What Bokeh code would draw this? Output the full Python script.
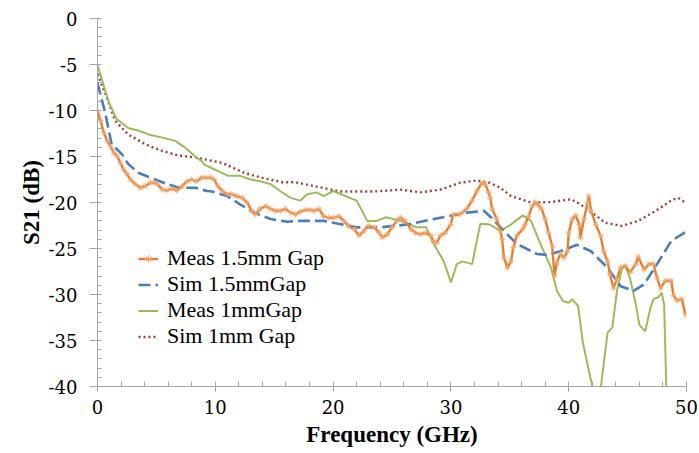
from bokeh.plotting import figure
from bokeh.models import Range1d, Legend, LegendItem, SingleIntervalTicker, PrintfTickFormatter
from bokeh.embed import file_html
from bokeh.resources import INLINE

# ---- data ----
meas15_f = [0, 0.25, 0.54, 0.82, 1.1, 1.39, 1.67, 1.95, 2.2, 2.5, 2.8, 3.2, 3.65, 4.07, 4.5, 4.8,
            5.1, 5.5, 5.9, 6.3, 6.7, 7.2, 7.6, 8.0, 8.4, 8.85, 9.2, 9.6, 9.9, 10.2, 10.6, 11.0,
            11.4, 11.8, 12.3, 12.7, 13.1, 13.4, 13.8, 14.3, 14.7, 15.1, 15.5, 15.96, 16.4, 16.8,
            17.2, 17.7, 18.1, 18.4, 18.8, 19.2, 19.6, 20.1, 20.5, 20.9, 21.3, 21.8, 22.2, 22.6,
            23.0, 23.5, 23.9, 24.2, 24.6, 25.0, 25.4, 25.7, 26.1, 26.6, 27.0, 27.4, 27.8, 28.3,
            28.5, 28.8, 29.1, 29.5, 29.97, 30.2, 30.7, 30.97, 31.4, 31.8, 32.2, 32.65, 32.9, 33.2,
            33.35, 33.5, 33.9, 34.2, 34.35, 34.5, 34.8, 35.1, 35.3, 35.6, 36.1, 36.3, 36.6, 36.9,
            37.2, 37.5, 37.7, 38.0, 38.3, 38.6, 38.8, 39.0, 39.3, 39.6, 39.9, 40.0, 40.3, 40.6,
            40.9, 41.0, 41.3, 41.6, 41.7, 41.9, 42.3, 42.7, 42.97, 43.3, 43.5, 43.8, 44.1, 44.4,
            44.8, 45.2, 45.7, 45.9, 46.4, 46.8, 47.2, 47.5, 47.8, 48.2, 48.7, 48.9, 49.2, 49.6, 49.9]
meas15_db = [-10.05, -11.1, -12.4, -13.3, -13.9, -14.6, -14.95, -15.7, -16.4, -16.9, -17.5, -18.0,
             -18.4, -18.2, -17.85, -17.85, -18.0, -18.6, -18.7, -18.5, -18.7, -18.2, -17.7, -17.5,
             -17.7, -17.3, -17.3, -17.3, -17.5, -18.2, -18.75, -19.1, -19.1, -19.3, -19.5, -20.0,
             -20.9, -21.3, -20.7, -20.4, -20.7, -20.9, -20.9, -20.7, -21.1, -21.3, -21.0, -20.8,
             -20.8, -20.9, -20.7, -21.5, -21.65, -21.65, -21.5, -22.0, -22.55, -22.9, -23.6, -23.1,
             -22.55, -22.7, -23.3, -23.8, -23.45, -22.7, -22.0, -21.65, -22.0, -22.9, -23.3, -23.45,
             -23.3, -23.6, -24.2, -24.4, -23.6, -23.3, -22.4, -21.3, -21.3, -21.1, -20.6, -19.8,
             -18.75, -17.85, -18.0, -18.9, -19.5, -20.7, -21.8, -23.1, -24.0, -26.0, -27.1, -26.4,
             -24.9, -23.6, -22.9, -22.4, -21.5, -20.4, -20.0, -20.4, -20.7, -21.8, -23.3, -24.7,
             -28.0, -26.5, -25.6, -26.0, -25.3, -23.3, -21.8, -21.4, -22.4, -23.8, -21.8, -20.0,
             -19.3, -20.9, -22.4, -23.6, -25.3, -26.4, -27.8, -29.3, -28.3, -27.1, -26.9, -27.6,
             -26.7, -25.9, -27.3, -26.7, -26.7, -28.2, -29.3, -28.5, -28.5, -30.1, -30.65, -30.5,
             -32.15]

sim15_f = [0, 0.68, 0.96, 1.2, 1.8, 2.1, 2.6, 3.5, 4.1, 5.5, 6.9, 8.3, 9.3, 9.7, 11.0, 12.1,
           13.3, 14.7, 16.1, 17.2, 19.2, 22.0, 24.0, 26.3, 29.1, 31.4, 32.8, 33.4, 34.5, 35.6,
           37.3, 38.2, 39.3, 40.7, 41.9, 43.3, 44.4, 45.5, 46.4, 47.5, 48.7, 49.8, 50]
sim15_db = [-7.0, -10.4, -12.2, -13.7, -14.4, -14.8, -15.8, -16.8, -17.1, -17.8, -18.4, -18.4,
            -18.75, -18.8, -19.3, -20.2, -21.1, -21.8, -22.1, -22.0, -22.0, -22.7, -22.7, -22.4,
            -21.65, -21.1, -20.9, -21.6, -23.1, -24.5, -25.6, -25.7, -25.3, -24.6, -25.3, -27.1,
            -29.1, -29.6, -28.9, -26.7, -24.2, -23.3, -23.3]

meas1_f = [0, 0.96, 1.6, 2.6, 3.5, 4.35, 5.5, 6.6, 7.4, 8.3, 8.85, 9.1, 11.1, 12.1, 13.0, 13.8,
           14.7, 15.5, 16.4, 17.2, 17.8, 18.6, 19.2, 20.0, 22.0, 22.9, 23.7, 24.5, 25.7, 27.1,
           27.9, 28.5, 29.4, 30.0, 30.5, 31.0, 31.8, 32.5, 33.3, 34.2, 35.1, 36.1, 36.8, 37.6,
           38.5, 39.0, 39.5, 40.0, 40.3, 40.8, 41.2, 41.9, 42.15, 42.7, 43.3, 43.7, 44.1, 44.5,
           44.8, 45.2, 45.7, 46.0, 46.5, 46.95, 47.2, 47.6, 47.9, 48.1, 48.3]
meas1_db = [-5.05, -9.1, -10.9, -11.9, -12.2, -12.6, -12.95, -13.3, -14.0, -15.0, -15.5, -15.9,
            -17.1, -17.1, -17.5, -17.7, -18.0, -18.75, -19.5, -19.8, -19.1, -18.9, -19.3, -18.75,
            -19.8, -22.0, -22.0, -21.6, -22.0, -22.7, -22.7, -24.4, -26.4, -28.7, -26.7, -26.4,
            -26.7, -22.3, -22.4, -23.1, -22.4, -21.4, -22.0, -24.5, -27.1, -29.6, -30.7, -30.9,
            -30.5, -31.25, -35.2, -39.4, -40.6, -40.4, -34.15, -33.6, -29.6, -27.3, -26.9, -28.2,
            -31.1, -33.3, -34.0, -31.4, -30.5, -30.3, -29.8, -31.1, -40.8]

sim1_f = [0, 0.68, 1.5, 2.6, 4.1, 5.5, 6.9, 8.3, 10.6, 12.5, 13.9, 15.7, 16.8, 20.6, 23.5, 25.7,
          27.4, 29.1, 30.8, 32.2, 33.3, 34.2, 35.1, 36.8, 38.5, 40.2, 41.0, 42.4, 43.1, 44.5,
          45.9, 47.4, 48.8, 49.3, 49.9]
sim1_db = [-6.07, -8.2, -11.1, -12.6, -13.7, -14.4, -14.9, -15.1, -15.7, -16.8, -17.3, -17.8,
           -17.8, -18.8, -18.8, -18.6, -18.9, -18.6, -17.85, -17.6, -17.85, -18.4, -19.3, -20.0,
           -19.95, -19.65, -20.2, -21.5, -22.2, -22.55, -22.0, -20.9, -19.7, -19.5, -20.0]

labels = ["Meas 1.5mm Gap", "Sim 1.5mmGap", "Meas 1mmGap", "Sim 1mm Gap"]

ORANGE = "#E67E31"
ORANGE_MK = "#F2A66E"
BLUE = "#4A7EBB"
GREEN = "#9BBB59"
RED = "#A53C3C"
AXIS = "#A6A6A6"
FONT = "Liberation Serif"
TICK_FONT = "DejaVu Serif"

p = figure(width=699, height=453, x_range=Range1d(0, 50), y_range=Range1d(-40, 0),
           output_backend="svg", toolbar_location=None,
           min_border_left=97, min_border_right=13, min_border_top=18, min_border_bottom=67)
p.outline_line_color = None
p.grid.visible = False
p.background_fill_color = "white"
p.border_fill_color = "white"

r_red = p.line(sim1_f, sim1_db, line_color=RED, line_width=2.4, line_dash="2 3")
r_green = p.line(meas1_f, meas1_db, line_color=GREEN, line_width=2)
r_blue = p.line(sim15_f, sim15_db, line_color=BLUE, line_width=2.6, line_dash="12 5")
r_or = p.line(meas15_f, meas15_db, line_color=ORANGE, line_width=2.4)
r_or_pts = p.scatter(meas15_f, meas15_db, marker="asterisk", size=6, line_color=ORANGE_MK,
                     line_width=1, line_alpha=0.9)

xax = p.xaxis[0]
yax = p.yaxis[0]
xax.ticker = SingleIntervalTicker(interval=10, num_minor_ticks=5)
yax.ticker = SingleIntervalTicker(interval=5, num_minor_ticks=5)
yax.formatter = PrintfTickFormatter(format="%d")

for ax in (xax, yax):
    ax.axis_line_color = AXIS
    ax.major_tick_line_color = AXIS
    ax.minor_tick_line_color = AXIS
    ax.major_label_text_font = TICK_FONT
    ax.major_label_text_font_size = "18px"
    ax.major_label_text_color = "black"
    ax.axis_label_text_font = FONT
    ax.axis_label_text_font_size = "23px"
    ax.axis_label_text_font_style = "bold"
    ax.axis_label_text_color = "black"
    ax.axis_label_text_line_height = 1.0

xax.axis_label = "Frequency (GHz)"
xax.major_tick_in = 4
xax.major_tick_out = 5
xax.minor_tick_in = 5
xax.minor_tick_out = 0
xax.major_label_standoff = 8
xax.axis_label_standoff = 5

yax.axis_label = "S21 (dB)"
yax.major_tick_in = 0
yax.major_tick_out = 8
yax.minor_tick_in = 4
yax.minor_tick_out = 0
yax.major_label_standoff = 12
yax.axis_label_standoff = 2

legend = Legend(items=[
    LegendItem(label=labels[0], renderers=[r_or, r_or_pts]),
    LegendItem(label=labels[1], renderers=[r_blue]),
    LegendItem(label=labels[2], renderers=[r_green]),
    LegendItem(label=labels[3], renderers=[r_red]),
], location=(41, 37))
legend.label_text_font = FONT
legend.label_text_font_size = "22px"
legend.label_text_line_height = 1.0
legend.label_text_color = "black"
legend.glyph_width = 20
legend.glyph_height = 25
legend.label_height = 25
legend.spacing = 0
legend.padding = 0
legend.margin = 0
legend.label_standoff = 9
legend.border_line_color = None
legend.background_fill_alpha = 0
p.add_layout(legend)

open("out.html", "w").write(file_html(p, INLINE))
